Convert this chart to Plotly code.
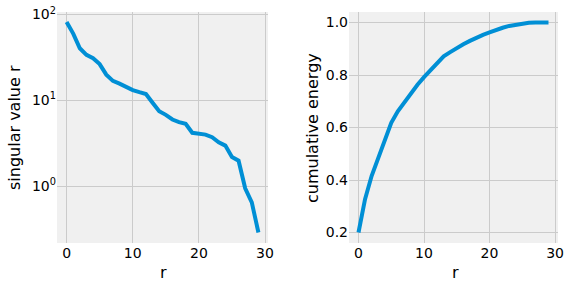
import numpy as np
import plotly.graph_objects as go

r = list(range(30))
singular_values = [82, 60, 40.5, 34, 31, 26.5, 20, 16.9, 15.7, 14.3, 13.2, 12.5, 11.9, 9.4, 7.5,
                   6.8, 6.0, 5.6, 5.35, 4.2, 4.1, 4.0, 3.73, 3.26, 2.98, 2.2, 1.99, 0.95, 0.65, 0.29]
cumulative_energy = [0.2, 0.327, 0.415, 0.485, 0.554, 0.618, 0.662, 0.697, 0.73, 0.763, 0.792,
                     0.82, 0.848, 0.871, 0.887, 0.903, 0.917, 0.93, 0.943, 0.953, 0.962, 0.972,
                     0.98, 0.987, 0.992, 0.996, 0.999, 1.0, 1.0, 1.0]
x_ticks = [0, 10, 20, 30]
log_tick_vals = [1, 10, 100]
log_tick_text = ["10<sup>0</sup>", "10<sup>1</sup>", "10<sup>2</sup>"]
energy_ticks = [0.2, 0.4, 0.6, 0.8, 1.0]

LINE = "#008fd5"
GRID = "#cbcbcb"
FONT = "DejaVu Sans"

fig = go.Figure()
fig.add_trace(go.Scatter(x=r, y=singular_values, mode="lines",
                         line=dict(color=LINE, width=4), xaxis="x", yaxis="y", showlegend=False))
fig.add_trace(go.Scatter(x=r, y=cumulative_energy, mode="lines",
                         line=dict(color=LINE, width=4), xaxis="x2", yaxis="y2", showlegend=False))

H = 289.0
W = 572.0
ydom = [1 - 243 / H, 1 - 12 / H]
common = dict(showgrid=True, gridcolor=GRID, gridwidth=1, zeroline=False, showline=False,
              ticks="", automargin=False,
              tickfont=dict(family=FONT, size=14, color="black"))

title_font = dict(family=FONT, size=16, color="black")
fig.update_layout(
    width=572, height=289,
    margin=dict(l=0, r=0, t=0, b=0, autoexpand=False),
    paper_bgcolor="white", plot_bgcolor="#f0f0f0",
    font=dict(family=FONT, color="black"),
    xaxis=dict(domain=[57 / W, 268 / W], range=[-1.45, 30.45], tickvals=x_ticks, anchor="y", **common),
    yaxis=dict(domain=ydom, type="log", range=[-0.66, 2.03], tickvals=log_tick_vals,
               ticktext=log_tick_text, anchor="x", **common),
    xaxis2=dict(domain=[349 / W, 558 / W], range=[-1.45, 30.45], tickvals=x_ticks, anchor="y2", **common),
    yaxis2=dict(domain=ydom, range=[0.16, 1.04], tickvals=energy_ticks, tickformat=".1f",
                anchor="x2", **common),
    annotations=[
        dict(text="singular value r", x=14 / W, y=1 - 128 / H, xref="paper", yref="paper",
             xanchor="center", yanchor="middle",
             textangle=-90, showarrow=False, font=title_font),
        dict(text="r", x=163 / W, y=1 - 272 / H, xref="paper", yref="paper",
             xanchor="center", yanchor="middle", showarrow=False, font=title_font),
        dict(text="cumulative energy", x=312 / W, y=1 - 128 / H, xref="paper", yref="paper",
             xanchor="center", yanchor="middle",
             textangle=-90, showarrow=False, font=title_font),
        dict(text="r", x=455 / W, y=1 - 272 / H, xref="paper", yref="paper",
             xanchor="center", yanchor="middle", showarrow=False, font=title_font),
    ],
)

fig.write_html("out.html")
